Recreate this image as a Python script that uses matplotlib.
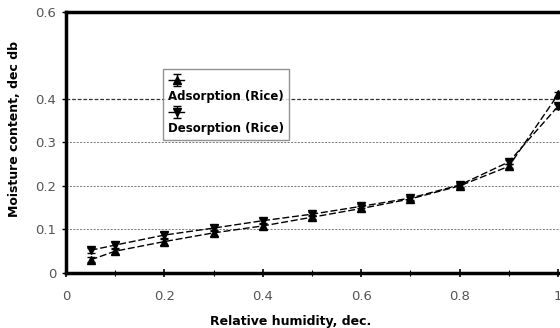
import matplotlib.pyplot as plt
from matplotlib.ticker import MultipleLocator
from matplotlib.lines import Line2D

# Relative humidity (dec.) and moisture content (dec db)
rh = [0.05, 0.1, 0.2, 0.3, 0.4, 0.5, 0.6, 0.7, 0.8, 0.9, 1.0]
adsorption = [0.030, 0.050, 0.072, 0.092, 0.108, 0.128, 0.148, 0.170, 0.200, 0.245, 0.410]
desorption = [0.052, 0.064, 0.087, 0.103, 0.120, 0.135, 0.153, 0.172, 0.202, 0.255, 0.383]
ads_err = [0.006, 0.006, 0.008, 0.007, 0.007, 0.005, 0.005, 0.004, 0.004, 0.005, 0.006]
des_err = [0.006, 0.006, 0.008, 0.007, 0.007, 0.005, 0.005, 0.004, 0.004, 0.005, 0.006]

y_ticks = [0, 0.1, 0.2, 0.3, 0.4, 0.6]
y_labels = ['0', '0.1', '0.2', '0.3', '0.4', '0.6']
x_ticks = [0, 0.2, 0.4, 0.6, 0.8, 1.0]
x_labels = ['0', '0.2', '0.4', '0.6', '0.8', '1']

fig = plt.figure(figsize=(5.6, 3.28), dpi=100)
ax = fig.add_axes([0.118, 0.168, 0.9225, 0.796])

h1 = ax.errorbar(rh, adsorption, yerr=ads_err, color='black', marker='^', markersize=6,
                 linestyle='--', dashes=(5, 2), linewidth=1.0, capsize=3, elinewidth=1.0)
h2 = ax.errorbar(rh, desorption, yerr=des_err, color='black', marker='v', markersize=6,
                 linestyle='--', dashes=(5, 2), linewidth=1.0, capsize=3, elinewidth=1.0)

ax.set_xlim(0, 1.05)
ax.set_ylim(0, 0.6)
ax.set_xticks(x_ticks)
ax.set_xticklabels(x_labels)
ax.xaxis.set_minor_locator(MultipleLocator(0.1))
ax.set_yticks(y_ticks)
ax.set_yticklabels(y_labels)

for y in [0.1, 0.2, 0.3]:
    ax.axhline(y, color='#777777', linestyle=(0, (2, 1.5)), linewidth=0.7, zorder=0)
ax.axhline(0.4, color='#333333', linestyle=(0, (3, 1.5)), linewidth=0.9, zorder=0)

for s in ['left', 'top', 'bottom']:
    ax.spines[s].set_linewidth(2.5)
ax.spines['right'].set_visible(False)

ax.tick_params(axis='x', which='major', direction='inout', length=6, width=1.2,
               labelsize=9.5, colors='black', labelcolor='#555555', pad=9)
ax.tick_params(axis='x', which='minor', direction='inout', length=5, width=0.8)
ax.tick_params(axis='y', direction='out', length=3, width=1, labelsize=9.5,
               labelcolor='#555555', pad=4)

ax.set_xlabel('Relative humidity, dec.', fontsize=9, fontweight='bold')
ax.xaxis.set_label_coords(0.435, -0.16)
ax.set_ylabel('Moisture content, dec db', fontsize=9, fontweight='bold')
ax.yaxis.set_label_coords(-0.088, 0.55)

# Excel-style legend: marker on one row, label on the row below
blank = Line2D([], [], linestyle='none')
handles = [h1, blank, h2, blank]
labels = [' ', 'Adsorption (Rice)', ' ', 'Desorption (Rice)']
leg = ax.legend(handles, labels, loc='upper left', bbox_to_anchor=(0.188, 0.78),
                fontsize=8.5, frameon=True, fancybox=False, edgecolor='#777777',
                handlelength=1.6, handletextpad=-1.6, borderpad=0.4,
                labelspacing=0.25, borderaxespad=0)
leg.get_frame().set_linewidth(1.0)
for t in leg.get_texts():
    t.set_fontweight('bold')

fig.savefig('out.png', dpi=100)
